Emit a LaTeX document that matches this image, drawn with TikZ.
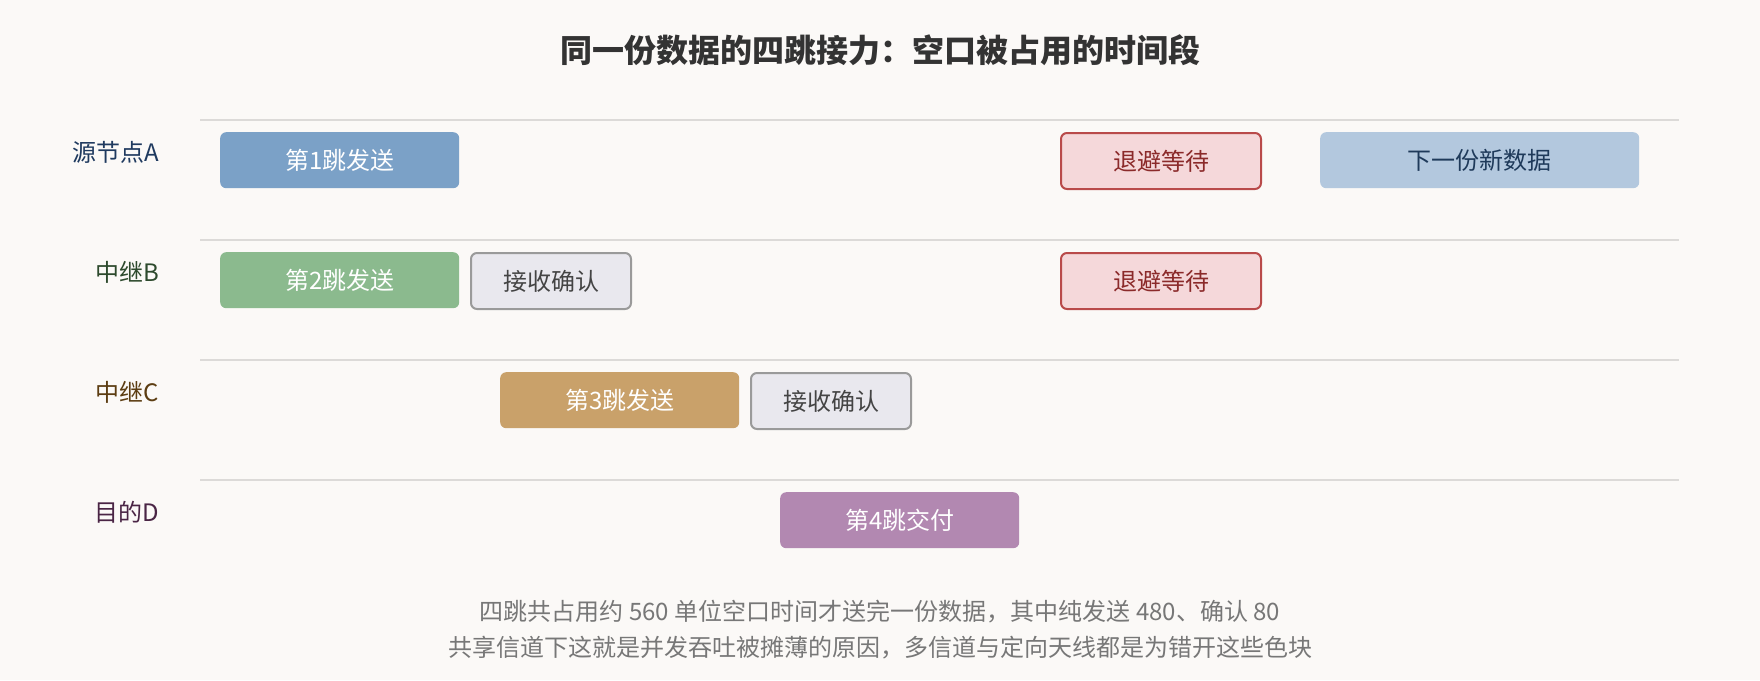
\documentclass[tikz,border=0pt]{standalone}
\usepackage{fontspec}
\setmainfont{Noto Sans CJK SC}
\newfontfamily\cjk{Noto Sans CJK SC}
\definecolor{bgc}{HTML}{FBF9F7}
\definecolor{gridc}{HTML}{DCDAD8}
\definecolor{titlec}{HTML}{333333}
\definecolor{footc}{HTML}{777777}
\definecolor{sendA}{HTML}{7BA1C7}
\definecolor{sendB}{HTML}{8BBA8E}
\definecolor{sendC}{HTML}{C9A16A}
\definecolor{sendD}{HTML}{B288B1}
\definecolor{ackfill}{HTML}{E9E8EE}
\definecolor{ackdraw}{HTML}{9A9A9A}
\definecolor{acktext}{HTML}{444444}
\definecolor{bofill}{HTML}{F5D8DA}
\definecolor{bodraw}{HTML}{B94A4A}
\definecolor{botext}{HTML}{8B2A2A}
\definecolor{nextfill}{HTML}{B3C8DE}
\definecolor{nexttext}{HTML}{1F3A5A}
\definecolor{labA}{HTML}{1F3A5F}
\definecolor{labB}{HTML}{2D4A2D}
\definecolor{labC}{HTML}{5C3D12}
\definecolor{labD}{HTML}{4A2545}
\tikzset{
  bar/.style={anchor=north west, rounded corners=6pt, minimum height=56pt, inner sep=0pt,
    font=\fontsize{24}{28}\selectfont},
  sendbar/.style={bar, text=white},
  ackbar/.style={bar, fill=ackfill, draw=ackdraw, line width=2pt, text=acktext},
  bobar/.style={bar, fill=bofill, draw=bodraw, line width=2pt, text=botext},
  nextbar/.style={bar, fill=nextfill, text=nexttext},
  rowlab/.style={anchor=east, inner sep=0pt, font=\fontsize{24}{28}\selectfont},
  gridline/.style={draw=gridc, line width=2pt},
  foot/.style={inner sep=0pt, text=footc, font=\fontsize{24}{28}\selectfont}
}
\begin{document}
\begin{tikzpicture}[x=1pt, y=-1pt]
\fill[bgc] (0,0) rectangle (1760,680);
\useasboundingbox (0,0) rectangle (1760,680);
% title
\node[inner sep=0pt, text=titlec, font=\fontsize{32}{36}\selectfont\bfseries] (title) at (880,50) {同一份数据的四跳接力：空口被占用的时间段};
% grid lines
\foreach \yy/\nm in {120/g1,240/g2,360/g3,480/g4}{
  \coordinate (\nm l) at (200,\yy);
  \coordinate (\nm r) at (1679,\yy);
  \draw[gridline] (\nm l) -- (\nm r);
}
% row labels
\node[rowlab, text=labA] (labA) at (159,152) {源节点A};
\node[rowlab, text=labB] (labB) at (159,272) {中继B};
\node[rowlab, text=labC] (labC) at (159,392) {中继C};
\node[rowlab, text=labD] (labD) at (159,512) {目的D};
% row A
\node[sendbar, fill=sendA, minimum width=239pt] (s1) at (220,132) {第1跳发送};
\node[bobar, minimum width=200pt] (boA) at (1060,132) {退避等待};
\node[nextbar, minimum width=319pt] (nxt) at (1320,132) {下一份新数据};
% row B
\node[sendbar, fill=sendB, minimum width=239pt] (s2) at (220,252) {第2跳发送};
\node[ackbar, minimum width=160pt] (ackB) at (470,252) {接收确认};
\node[bobar, minimum width=200pt] (boB) at (1060,252) {退避等待};
% row C
\node[sendbar, fill=sendC, minimum width=239pt] (s3) at (500,372) {第3跳发送};
\node[ackbar, minimum width=160pt] (ackC) at (750,372) {接收确认};
% row D
\node[sendbar, fill=sendD, minimum width=239pt] (s4) at (780,492) {第4跳交付};
% footer
\node[foot] (f1) at (880,612) {四跳共占用约 560 单位空口时间才送完一份数据，其中纯发送 480、确认 80};
\node[foot] (f2) at (880,648) {共享信道下这就是并发吞吐被摊薄的原因，多信道与定向天线都是为错开这些色块};
\end{tikzpicture}
\end{document}
